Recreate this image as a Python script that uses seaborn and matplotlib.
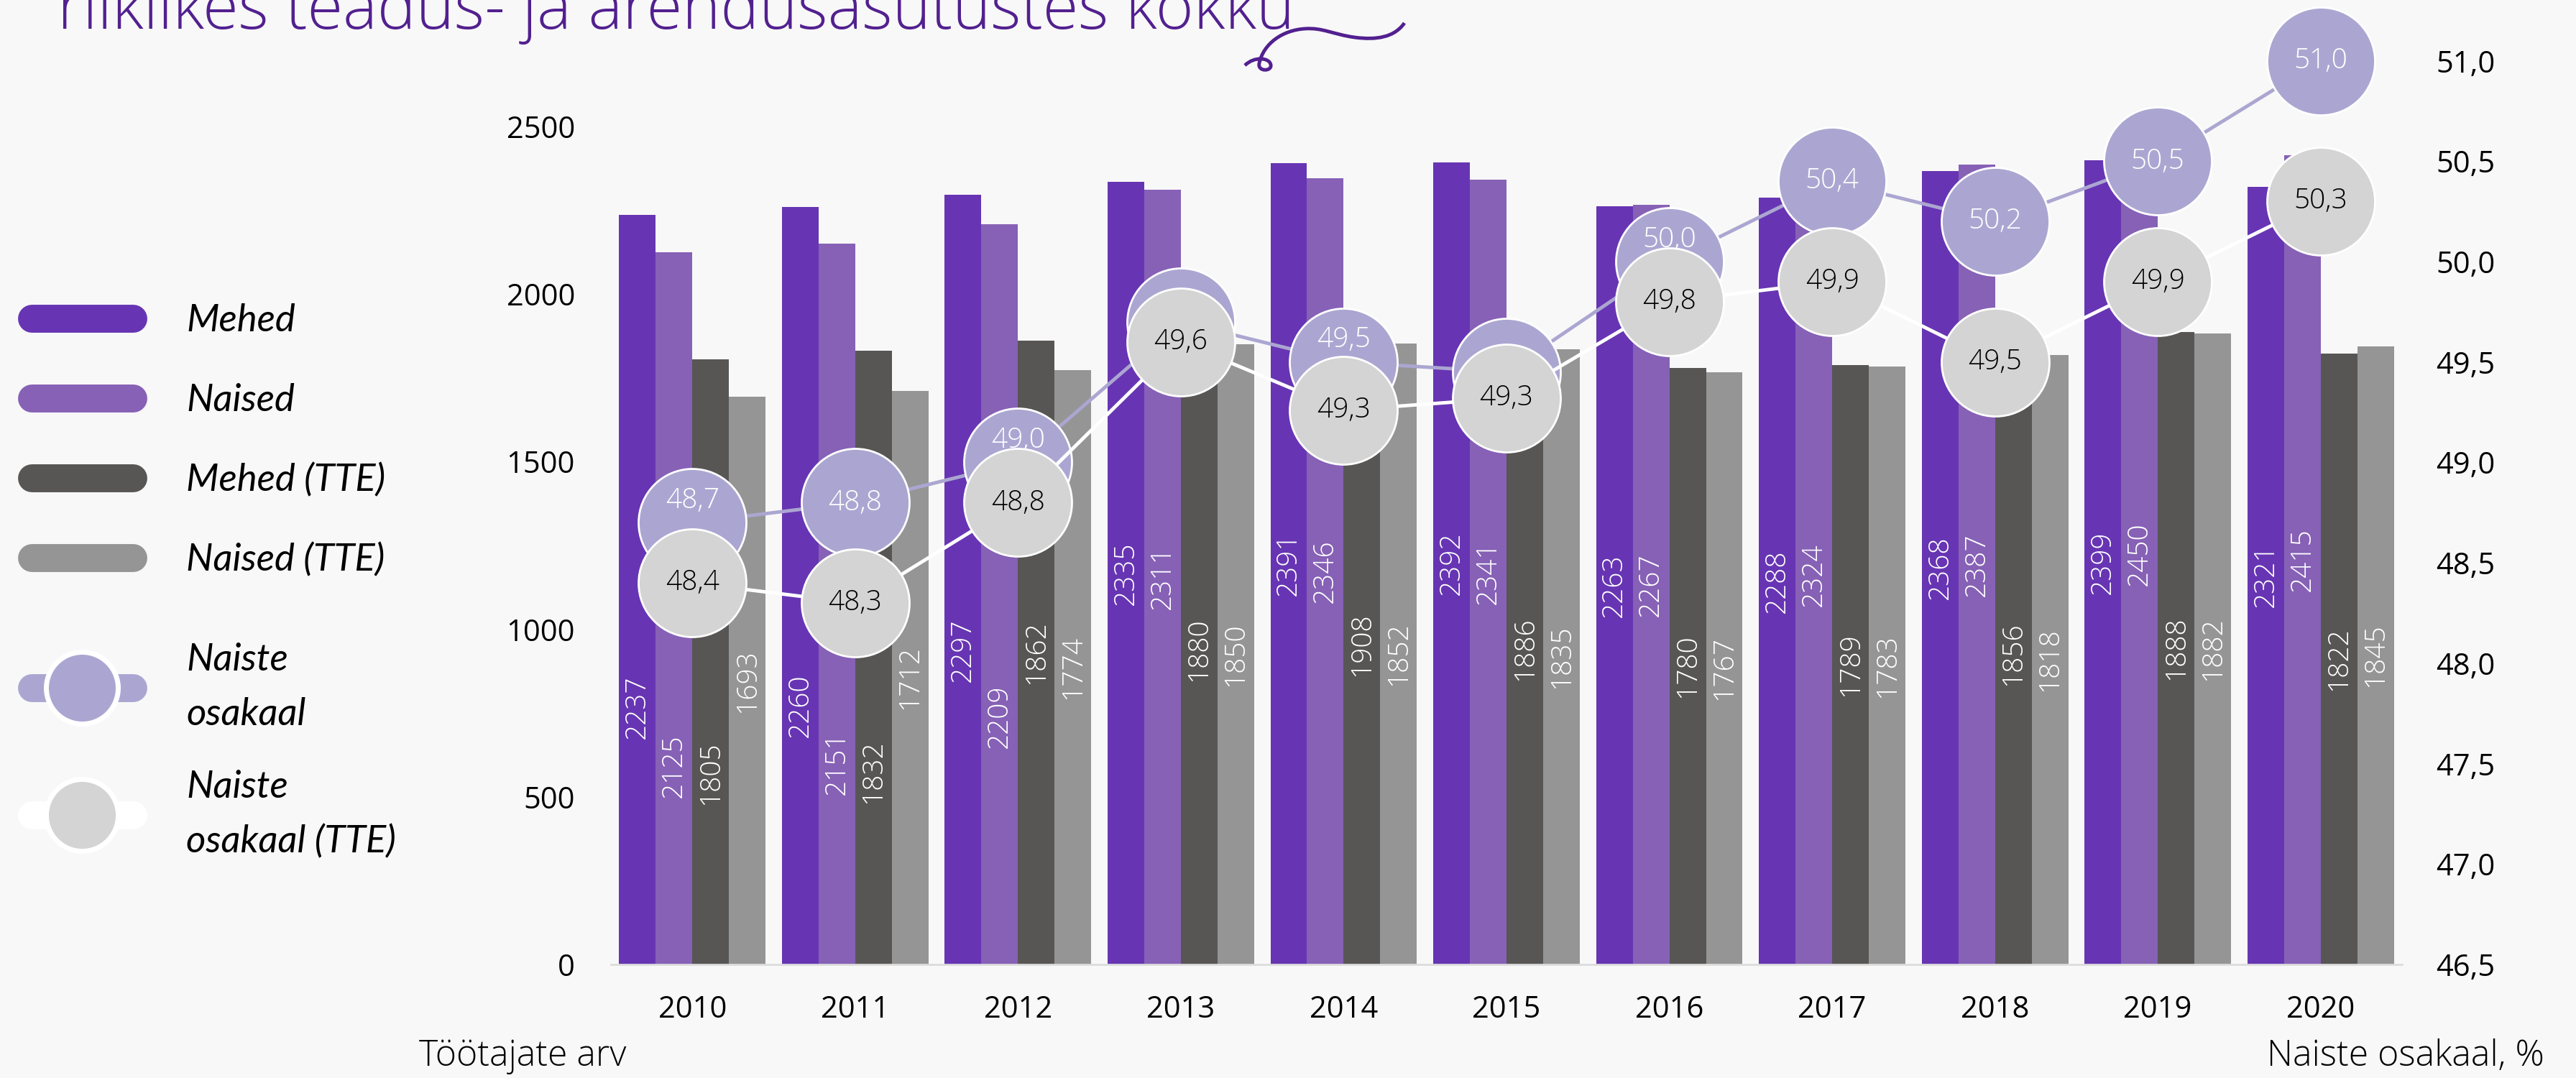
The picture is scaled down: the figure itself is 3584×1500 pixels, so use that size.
import matplotlib
matplotlib.use("Agg")
import matplotlib.pyplot as plt
from matplotlib.lines import Line2D
from matplotlib.path import Path
from matplotlib.patches import PathPatch
import numpy as np
import pandas as pd
import seaborn as sns

# ── data ────────────────────────────────────────────────────────────────
years = [2010, 2011, 2012, 2013, 2014, 2015, 2016, 2017, 2018, 2019, 2020]
mehed = [2237, 2260, 2297, 2335, 2391, 2392, 2263, 2288, 2368, 2399, 2321]
naised = [2125, 2151, 2209, 2311, 2346, 2341, 2267, 2324, 2387, 2450, 2415]
mehed_tte = [1805, 1832, 1862, 1880, 1908, 1886, 1780, 1789, 1856, 1888, 1822]
naised_tte = [1693, 1712, 1774, 1850, 1852, 1835, 1767, 1783, 1818, 1882, 1845]
osakaal = [48.7, 48.8, 49.0, 49.7, 49.5, 49.45, 50.0, 50.4, 50.2, 50.5, 51.0]
osakaal_tte = [48.4, 48.3, 48.8, 49.6, 49.26, 49.32, 49.8, 49.9, 49.5, 49.9, 50.3]

groups = ["Mehed", "Naised", "Mehed (TTE)", "Naised (TTE)"]
line_labels = ["Naiste\nosakaal", "Naiste\nosakaal (TTE)"]
left_ticks = [0, 500, 1000, 1500, 2000, 2500]
right_ticks = [46.5, 47.0, 47.5, 48.0, 48.5, 49.0, 49.5, 50.0, 50.5, 51.0]

title = "riiklikes teadus- ja arendusasutustes kokku"

# manually moved bar labels (data units), everything else sits mid-bar
label_y = {
    ("Mehed", 2010): 768, ("Naised", 2010): 592, ("Mehed (TTE)", 2010): 570,
    ("Mehed", 2011): 772, ("Naised", 2011): 602, ("Mehed (TTE)", 2011): 575,
    ("Mehed", 2012): 937, ("Naised", 2012): 740,
}

# ── style ───────────────────────────────────────────────────────────────
BG = "#F8F8F8"
bar_colors = ["#6735B3", "#8661B6", "#575655", "#959595"]
LINE_PURPLE = "#ABA6D1"
CIRCLE_GRAY = "#D4D4D4"
TITLE_COLOR = "#52208F"
W, H = 3584, 1500

sns.set_theme(style="white")
plt.rcParams.update({
    "figure.facecolor": BG,
    "axes.facecolor": BG,
    "savefig.facecolor": BG,
    "text.color": "black",
    "xtick.color": "black",
    "ytick.color": "black",
})
plt.rcParams["font.family"] = ["Open Sans", "DejaVu Sans"]

df = pd.DataFrame({
    "aasta": years * 4,
    "arv": mehed + naised + mehed_tte + naised_tte,
    "grupp": [g for g in groups for _ in years],
})

fig = plt.figure(figsize=(W / 100, H / 100), dpi=100)
ax = fig.add_axes([850 / W, 158 / H, (3342 - 850) / W, (1342 - 60) / H])

sns.barplot(
    data=df, x="aasta", y="arv", hue="grupp", hue_order=groups,
    palette=bar_colors, width=0.9, saturation=1, linewidth=0,
    legend=False, ax=ax,
)

series_values = [mehed, naised, mehed_tte, naised_tte]
for container, g, vals in zip(ax.containers, groups, series_values):
    for bar, yr, v in zip(container, years, vals):
        y = label_y.get((g, yr), v / 2)
        ax.text(bar.get_x() + bar.get_width() / 2, y, str(v), rotation=90,
                ha="center", va="center", color="white", fontsize=28,
                fontweight="light")

ax.set_xlim(-0.5, 10.5)
ax.set_ylim(0, 2749)
ax.set_yticks(left_ticks)
ax.set_xlabel("")
ax.set_ylabel("")
ax.tick_params(axis="y", length=0, pad=36, labelsize=30)
ax.tick_params(axis="x", length=0, pad=30, labelsize=30)
for s in ["top", "right", "left"]:
    ax.spines[s].set_visible(False)
ax.spines["bottom"].set_color("#DCDCDC")
ax.spines["bottom"].set_linewidth(2)

# ── share lines on secondary axis ───────────────────────────────────────
ax2 = ax.twinx()
xpos = np.arange(len(years))
sns.lineplot(x=xpos, y=osakaal, ax=ax2, color=LINE_PURPLE, linewidth=3.5,
             marker="o", markersize=108, markerfacecolor=LINE_PURPLE,
             markeredgecolor="white", markeredgewidth=2, zorder=3,
             clip_on=False)
sns.lineplot(x=xpos, y=osakaal_tte, ax=ax2, color="white", linewidth=3.5,
             marker="o", markersize=108, markerfacecolor=CIRCLE_GRAY,
             markeredgecolor="white", markeredgewidth=2, zorder=5,
             clip_on=False)

for x, v, vt in zip(xpos, osakaal, osakaal_tte):
    diff = v - vt
    if diff < 0.15:
        continue  # hidden behind the grey circle
    dy = 22 if diff < 0.4 else 0
    ax2.annotate(f"{v:.1f}".replace(".", ","), (x, v), xytext=(0, dy),
                 textcoords="offset points", ha="center", va="center",
                 color="white", fontsize=28, fontweight="light", zorder=4,
                 annotation_clip=False)
for x, v in zip(xpos, osakaal_tte):
    ax2.annotate(f"{v:.1f}".replace(".", ","), (x, v), ha="center",
                 va="center", color="black", fontsize=28, fontweight="light",
                 zorder=6, annotation_clip=False)

ax2.set_xlim(-0.5, 10.5)
ax2.set_ylim(46.5, 51.088)
ax2.set_yticks(right_ticks)
ax2.set_yticklabels([f"{t:.1f}".replace(".", ",") for t in right_ticks])
ax2.tick_params(axis="y", length=0, pad=34, labelsize=30)
for s in ax2.spines.values():
    s.set_visible(False)

# ── axis captions ───────────────────────────────────────────────────────
fig.text(583 / W, 30 / H, "Töötajate arv", ha="left", va="center",
         fontsize=36, fontweight="light")
fig.text(3540 / W, 30 / H, "Naiste osakaal, %", ha="right",
         va="center", fontsize=36, fontweight="light")

# ── title (its top edge runs off the canvas, as in the source) ──────────
fig.text(80 / W, 1 - 40 / H, title, ha="left", va="baseline",
         fontsize=65, fontweight="light", color=TITLE_COLOR)

swirl_pts = [(1954, 32),
             (1940, 52), (1915, 56), (1885, 52),
             (1855, 48), (1840, 38), (1815, 40),
             (1785, 42), (1758, 60), (1752, 88),
             (1749, 100), (1770, 100), (1768, 90),
             (1766, 80), (1745, 78), (1732, 91)]
swirl_pts = [(px / W, 1 - py / H) for px, py in swirl_pts]
codes = [Path.MOVETO] + [Path.CURVE4] * 15
fig.add_artist(PathPatch(Path(swirl_pts, codes), transform=fig.transFigure,
                         fill=False, edgecolor=TITLE_COLOR, linewidth=3.5))

# ── legend ──────────────────────────────────────────────────────────────
leg_font = {"family": ["Lato", "DejaVu Sans"], "style": "italic",
            "weight": "normal", "size": 38}
bar_handles = [Line2D([0], [0], color=c, lw=28, solid_capstyle="round")
               for c in bar_colors]
fig.legend(bar_handles, groups, loc="center left",
           bbox_to_anchor=(44 / W, 1 - 613 / H), frameon=False,
           prop=leg_font, labelcolor="black", handlelength=2.67,
           handletextpad=1.41, labelspacing=1.19, borderpad=0,
           borderaxespad=0)

line_handles = [
    Line2D([0], [0], color=LINE_PURPLE, lw=28, solid_capstyle="round",
           marker="o", markersize=72, markerfacecolor=LINE_PURPLE,
           markeredgecolor="white", markeredgewidth=5),
    Line2D([0], [0], color="white", lw=28, solid_capstyle="round",
           marker="o", markersize=72, markerfacecolor=CIRCLE_GRAY,
           markeredgecolor="white", markeredgewidth=5),
]
leg2 = fig.legend(line_handles, line_labels, loc="center left",
                  bbox_to_anchor=(44 / W, 1 - 1045 / H), frameon=False,
                  prop=leg_font, labelcolor="black", handlelength=2.67,
                  handletextpad=1.41, labelspacing=1.0, borderpad=0,
                  borderaxespad=0)
for t in leg2.get_texts():
    t.set_linespacing(1.72)

fig.savefig("out.png", dpi=100)
